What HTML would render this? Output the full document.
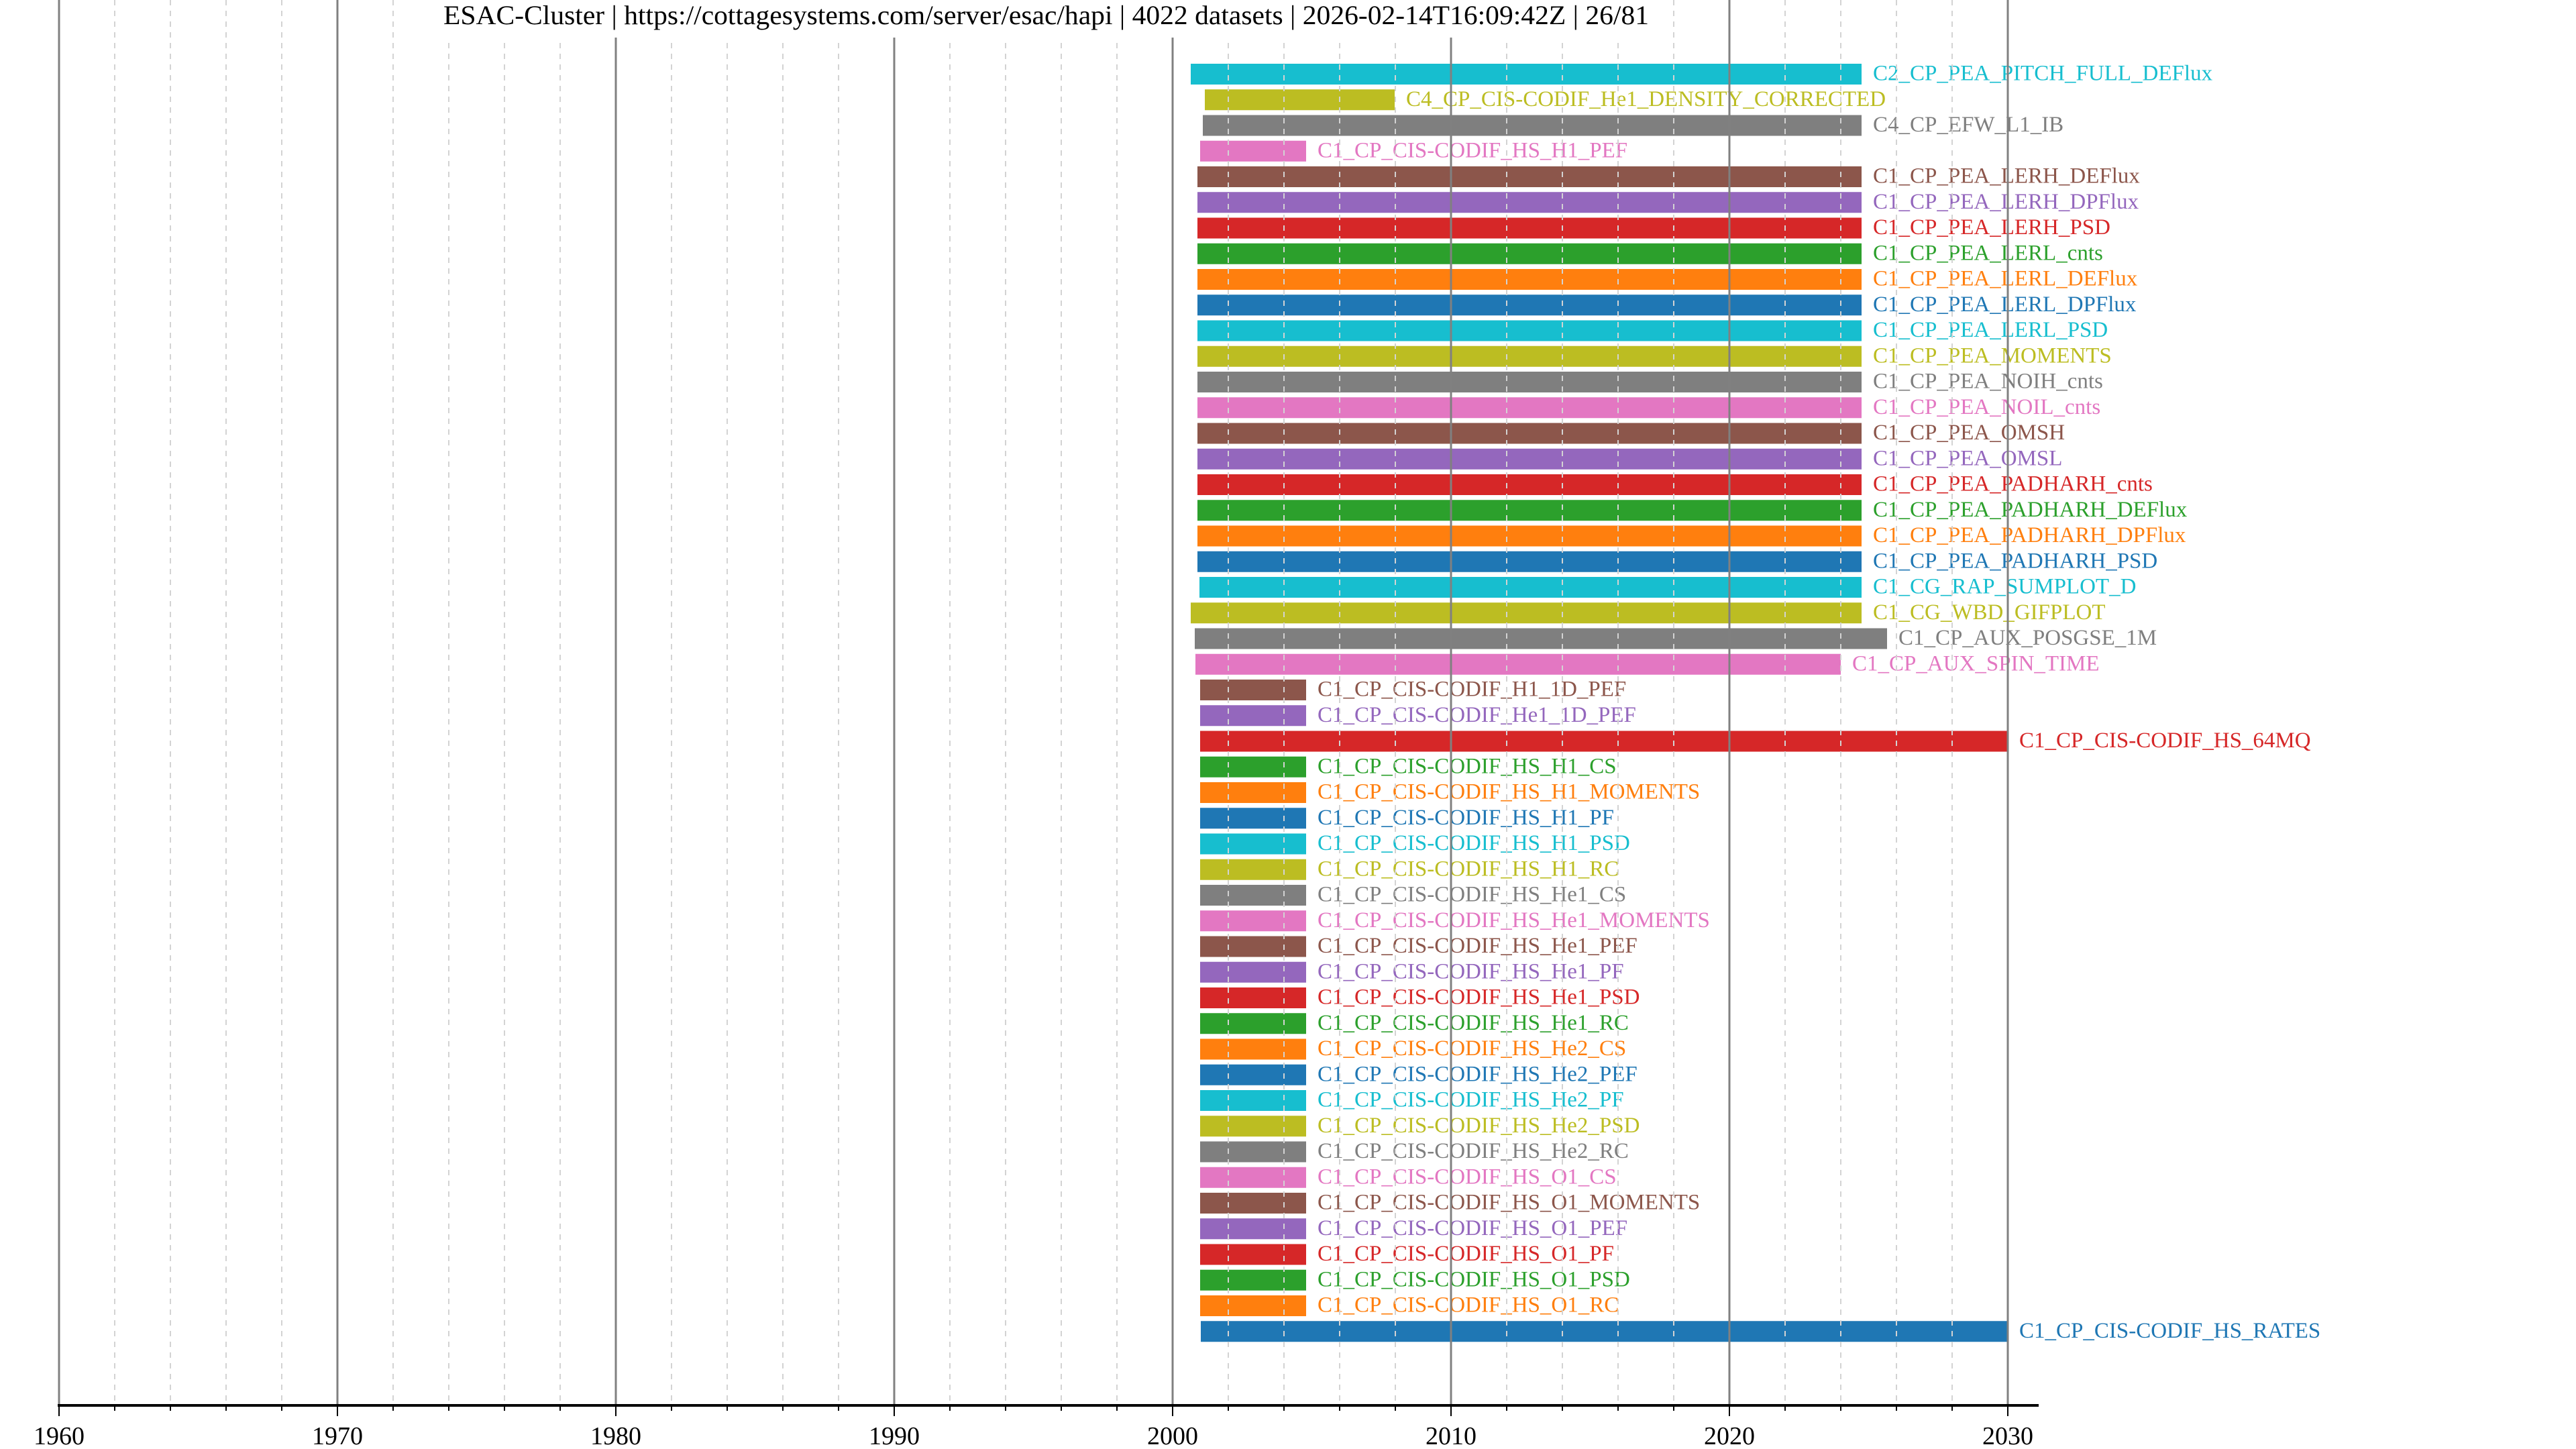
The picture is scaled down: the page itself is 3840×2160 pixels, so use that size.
<!DOCTYPE html>
<html><head><meta charset="utf-8"><style>html,body{margin:0;padding:0;background:#fff}svg{display:block}</style></head>
<body>
<svg id="s" xmlns="http://www.w3.org/2000/svg" width="3840" height="2160" viewBox="0 0 3840 2160" font-family="'Liberation Serif', serif">
<rect width="3840" height="2160" fill="#fff"/>
<g id="bars"></g>
<g id="grid"></g>
<rect x="655" y="0" width="1810" height="56" fill="#fff"/>
<text x="661" y="36" font-size="40" textLength="1797" lengthAdjust="spacingAndGlyphs">ESAC-Cluster | https://cottagesystems.com/server/esac/hapi | 4022 datasets | 2026-02-14T16:09:42Z | 26/81</text>
<g id="axis"></g>
</svg>
<script>
var NS="http://www.w3.org/2000/svg";
function el(p,t,a,txt){var e=document.createElementNS(NS,t);for(var k in a)e.setAttribute(k,a[k]);if(txt!=null)e.textContent=txt;p.appendChild(e);return e;}
var tab=["#1f77b4","#ff7f0e","#2ca02c","#d62728","#9467bd","#8c564b","#e377c2","#7f7f7f","#bcbd22","#17becf"];
var rows=[
["C2_CP_PEA_PITCH_FULL_DEFlux",1775,2775],
["C4_CP_CIS-CODIF_He1_DENSITY_CORRECTED",1796,2079],
["C4_CP_EFW_L1_IB",1793,2775],
["C1_CP_CIS-CODIF_HS_H1_PEF",1789,1947]];
["LERH_DEFlux","LERH_DPFlux","LERH_PSD","LERL_cnts","LERL_DEFlux","LERL_DPFlux","LERL_PSD","MOMENTS","NOIH_cnts","NOIL_cnts","OMSH","OMSL","PADHARH_cnts","PADHARH_DEFlux","PADHARH_DPFlux","PADHARH_PSD"].forEach(function(n){rows.push(["C1_CP_PEA_"+n,1785,2775]);});
rows.push(["C1_CG_RAP_SUMPLOT_D",1788,2775],["C1_CG_WBD_GIFPLOT",1775,2775],["C1_CP_AUX_POSGSE_1M",1781,2813],["C1_CP_AUX_SPIN_TIME",1782,2744],["C1_CP_CIS-CODIF_H1_1D_PEF",1789,1947],["C1_CP_CIS-CODIF_He1_1D_PEF",1789,1947],["C1_CP_CIS-CODIF_HS_64MQ",1789,2993]);
["H1_CS","H1_MOMENTS","H1_PF","H1_PSD","H1_RC","He1_CS","He1_MOMENTS","He1_PEF","He1_PF","He1_PSD","He1_RC","He2_CS","He2_PEF","He2_PF","He2_PSD","He2_RC","O1_CS","O1_MOMENTS","O1_PEF","O1_PF","O1_PSD","O1_RC"].forEach(function(n){rows.push(["C1_CP_CIS-CODIF_HS_"+n,1789,1947]);});
rows.push(["C1_CP_CIS-CODIF_HS_RATES",1790,2993]);
var bars=document.getElementById("bars");
rows.forEach(function(r,i){
 var c=tab[((9-i)%10+10)%10];var cy=110.5+i*38.25;
 el(bars,"rect",{x:r[1],y:cy-15.5,width:r[2]-r[1],height:31,fill:c});
 el(bars,"text",{x:r[2]+17,y:cy+9,"font-size":33,fill:c},r[0]);
});
var g=document.getElementById("grid");
function X(y){return 88+(y-1960)*41.5;}
for(var y=1960;y<=2030;y+=2){var x=X(y);
 if(y%10==0) el(g,"line",{x1:x,y1:0,x2:x,y2:2095,stroke:"#808080","stroke-width":3});
 else el(g,"line",{x1:x,y1:0,x2:x,y2:2095,stroke:"#d3d3d3","stroke-width":2,"stroke-dasharray":"8,8"});
}
var a=document.getElementById("axis");
el(a,"line",{x1:86,y1:2095,x2:3039,y2:2095,stroke:"#000","stroke-width":4});
for(var y=1960;y<=2030;y+=2){var x=X(y);var maj=y%10==0;
 el(a,"line",{x1:x,y1:2095,x2:x,y2:maj?2111:2103,stroke:"#000","stroke-width":2});
 if(maj) el(a,"text",{x:x,y:2153,"font-size":38,"text-anchor":"middle",fill:"#000"},String(y));
}
</script>
</body></html>
